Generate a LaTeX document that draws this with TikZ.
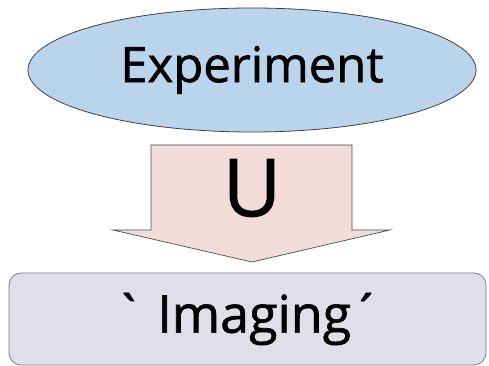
\documentclass[tikz,border=0pt]{standalone}
\usepackage{fontspec}
\setmainfont{Open Sans}[Ligatures=TeXOff, FakeBold=1.2]
\usepackage{xcolor}
\usetikzlibrary{shapes.geometric}

\definecolor{expblue}{RGB}{186,212,235}
\definecolor{arrpink}{RGB}{242,220,216}
\definecolor{imglav}{RGB}{223,222,233}

\begin{document}
\begin{tikzpicture}[x=1pt, y=1pt,
  exp/.style={draw=black!75, ellipse, fill=expblue, line width=0.8pt, inner sep=0pt,
    minimum width=448pt, minimum height=124pt, font=\fontsize{49}{49}\selectfont},
  img/.style={draw=black!50, rounded corners=12pt, fill=imglav, line width=0.8pt, inner sep=0pt,
    minimum width=477pt, minimum height=92pt, font=\fontsize{52}{52}\selectfont},
  blockarrow/.style={draw=black!70, fill=arrpink, line width=0.7pt}]
\useasboundingbox (0,0) rectangle (489,366);
\node[exp] (e) at (252,296) {Experiment};
\node[img] (i) at (247.5,47) {` Imaging\char"B4};
% block arrow between the two
\draw[blockarrow] (151,221) -- (352,221) -- (352,136) -- (390,136) -- (252,104)
  -- (113,136) -- (151,136) -- cycle;
\node[font=\fontsize{80}{80}\selectfont] (u) at (252,178) {U};
\end{tikzpicture}
\end{document}
